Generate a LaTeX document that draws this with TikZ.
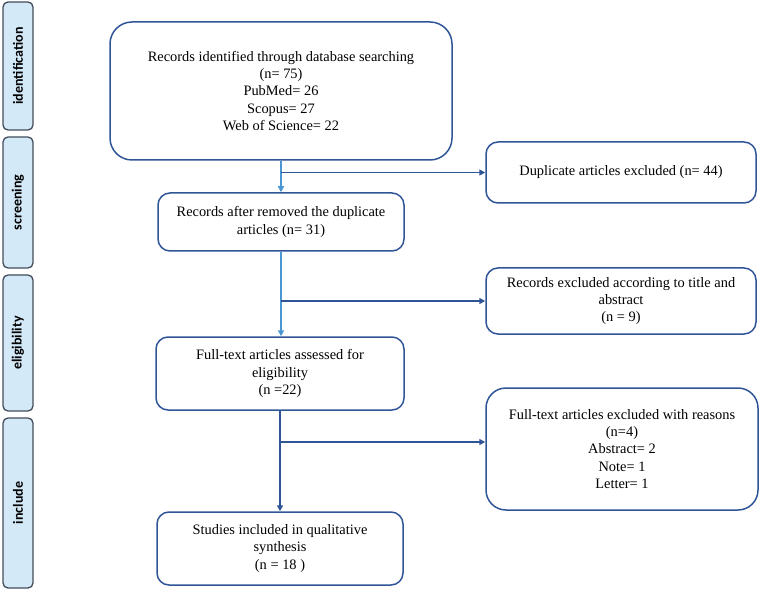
\documentclass[tikz,border=0pt]{standalone}
\usepackage{fontspec}
\setmainfont{Liberation Serif}
\newfontfamily\labfont{Carlito}
\usetikzlibrary{arrows.meta}
\definecolor{boxblue}{HTML}{2F5597}
\definecolor{linkblue}{HTML}{4A96D2}
\definecolor{tagfill}{HTML}{D3E9F8}
\definecolor{tagline}{HTML}{434C5C}
\begin{document}
\begin{tikzpicture}[x=1pt,y=-1pt,
    tag/.style={draw=tagline,fill=tagfill,line width=1.3pt,rounded corners=5pt,rotate=90,
      minimum height=30pt,inner sep=0pt,font=\labfont\bfseries\fontsize{14}{16}\selectfont},
    stage/.style={draw=boxblue,line width=1.5pt,rounded corners=12pt,align=center,
      inner sep=0pt,font=\fontsize{14.4}{17.3}\selectfont},
    arr/.style={-{Triangle[length=6pt,width=6pt]},line width=1.5pt}]
    \useasboundingbox (0,0) rectangle (762,593);

    % phase tags on the left
    \node[tag,minimum width=128pt] (tid) at (18,66) {identification};
    \node[tag,minimum width=131pt] (tscr) at (18,202.5) {screening};
    \node[tag,minimum width=136pt] (telig) at (18,343) {eligibility};
    \node[tag,minimum width=170pt] (tinc) at (18,503) {include};

    % main column
    \node[stage,rounded corners=22pt,minimum width=342pt,minimum height=138pt] (recs) at (281,91)
      {Records identified through database searching\\(n= 75)\\PubMed= 26\\Scopus= 27\\Web of Science= 22};
    \node[stage,minimum width=246pt,minimum height=58pt] (after) at (281,222)
      {Records after removed the duplicate\\articles (n= 31)};
    \node[stage,minimum width=248pt,minimum height=73pt] (full) at (280,373.5)
      {Full-text articles assessed for\\eligibility\\(n =22)};
    \node[stage,minimum width=246pt,minimum height=73pt] (incl) at (280,548.5)
      {Studies included in qualitative\\synthesis\\(n = 18 )};

    % excluded column
    \node[stage,minimum width=270pt,minimum height=61pt] (dup) at (621,172.5)
      {Duplicate articles excluded (n= 44)};
    \node[stage,minimum width=270pt,minimum height=66pt] (excl) at (621,301)
      {Records excluded according to title and\\abstract\\(n = 9)};
    \node[stage,rounded corners=20pt,minimum width=272pt,minimum height=122pt] (ftex) at (622,449)
      {Full-text articles excluded with reasons\\(n=4)\\Abstract= 2\\Note= 1\\Letter= 1};

    % flow
    \draw[arr,draw=linkblue,fill=linkblue] (recs.south) -- (after.north);
    \draw[arr,draw=boxblue,fill=boxblue] (recs.south |- dup.west) -- (dup.west);
    \draw[arr,draw=linkblue,fill=linkblue] (after.south) -- (after.south |- full.north);
    \draw[arr,draw=boxblue,fill=boxblue] (after.south |- excl.west) -- (excl.west);
    \coordinate (fork) at (280,442);
    \draw[arr,draw=boxblue,fill=boxblue] (full.south) -- (incl.north);
    \draw[arr,draw=boxblue,fill=boxblue] (fork) -- (fork -| ftex.west);
\end{tikzpicture}
\end{document}
